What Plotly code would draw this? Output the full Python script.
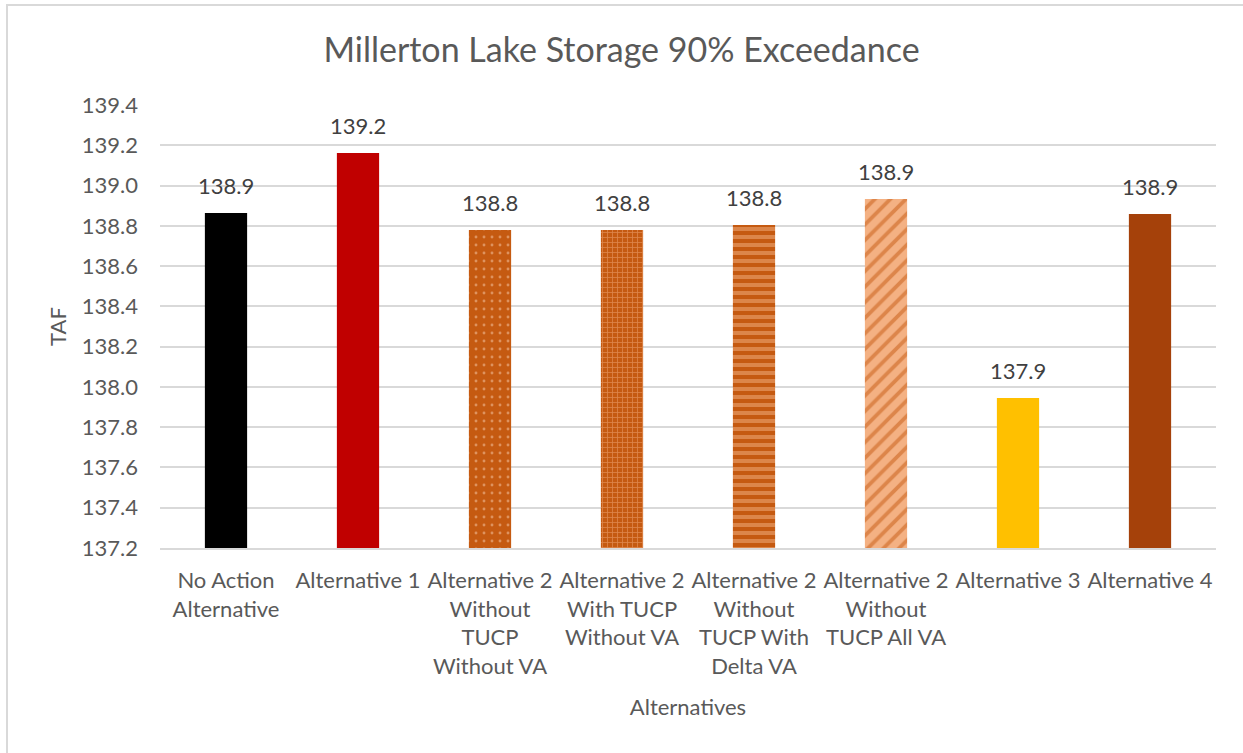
import plotly.graph_objects as go

categories = [
    "No Action<br>Alternative",
    "Alternative 1",
    "Alternative 2<br>Without<br>TUCP<br>Without VA",
    "Alternative 2<br>With TUCP<br>Without VA",
    "Alternative 2<br>Without<br>TUCP With<br>Delta VA",
    "Alternative 2<br>Without<br>TUCP All VA",
    "Alternative 3",
    "Alternative 4",
]
values = [138.864, 139.162, 138.779, 138.779, 138.804, 138.933, 137.945, 138.859]
tick_vals = [137.2, 137.4, 137.6, 137.8, 138.0, 138.2, 138.4, 138.6, 138.8, 139.0, 139.2, 139.4]

bg_colors = ["#000000", "#C00000", "#C55A11", "#C55A11", "#C55A11", "#F4B183", "#FFC000", "#A5410A"]
pattern_shapes = ["", "", ".", "+", "-", "/", "", ""]
pattern_fg = ["#000000", "#C00000", "#F8CBAD", "#F4B183", "#F4B183", "#C55A11", "#FFC000", "#A5410A"]
pattern_sizes = [8, 8, 8, 5, 8, 11, 8, 8]
pattern_solidity = [0.3, 0.3, 0.1, 0.3, 0.5, 0.35, 0.3, 0.3]

FONT = "Lato"
fig = go.Figure()
for cat, val, bg, shp, fg, sz, sol in zip(categories, values, bg_colors, pattern_shapes,
                                          pattern_fg, pattern_sizes, pattern_solidity):
    fig.add_trace(go.Bar(
        x=[cat], y=[val],
        marker=dict(color=bg, line=dict(width=0),
                    pattern=dict(shape=shp, fgcolor=fg, size=sz, solidity=sol, fillmode="overlay")),
        width=0.32,
        hoverinfo="x+y",
    ))
    fig.add_annotation(x=cat, y=val, xref="x", yref="y", text=f"{val:.1f}",
                       showarrow=False, yanchor="bottom", yshift=12,
                       font=dict(family=FONT, size=22, color="#404040"))

W, H = 1243, 753
ml, mr, mt, mb = 160, 27, 105, 205
pw, ph = W - ml - mr, H - mt - mb

fig.update_layout(
    width=W, height=H,
    margin=dict(l=ml, r=mr, t=mt, b=mb),
    paper_bgcolor="white", plot_bgcolor="white",
    showlegend=False,
    barmode="overlay",
    title=dict(text="Millerton Lake Storage 90% Exceedance", x=0.5, xanchor="center",
               y=1 - 50 / H, yanchor="middle",
               font=dict(family=FONT, size=34, color="#595959")),
    font=dict(family=FONT, color="#595959"),
)
fig.update_yaxes(
    range=[137.2, 139.4], tickvals=tick_vals, tickformat=".1f",
    showgrid=True, gridcolor="#D9D9D9", gridwidth=1.5,
    zeroline=False, showline=False, ticks="", ticklabelstandoff=21,
    tickfont=dict(family=FONT, size=22, color="#595959"),
    title=dict(text="TAF", font=dict(family=FONT, size=22, color="#595959"), standoff=9),
)
fig.update_xaxes(
    showline=True, linecolor="#D9D9D9", linewidth=1.5, ticks="", ticklabelstandoff=12,
    tickfont=dict(family=FONT, size=22, color="#595959"),
    tickangle=0,
    title=dict(text="Alternatives", font=dict(family=FONT, size=22, color="#595959"), standoff=22),
)
fig.add_shape(type="rect", xref="paper", yref="paper",
              x0=(7 - ml) / pw, x1=(W + 5 - ml) / pw,
              y0=-(H + 5 - mt - ph) / ph, y1=1 + (mt - 5) / ph,
              line=dict(color="#D9D9D9", width=2), fillcolor="rgba(0,0,0,0)", layer="below")

fig.write_html("out.html", config={"displayModeBar": False},
               post_script="document.body.style.margin='0';document.body.style.overflow='hidden';")
